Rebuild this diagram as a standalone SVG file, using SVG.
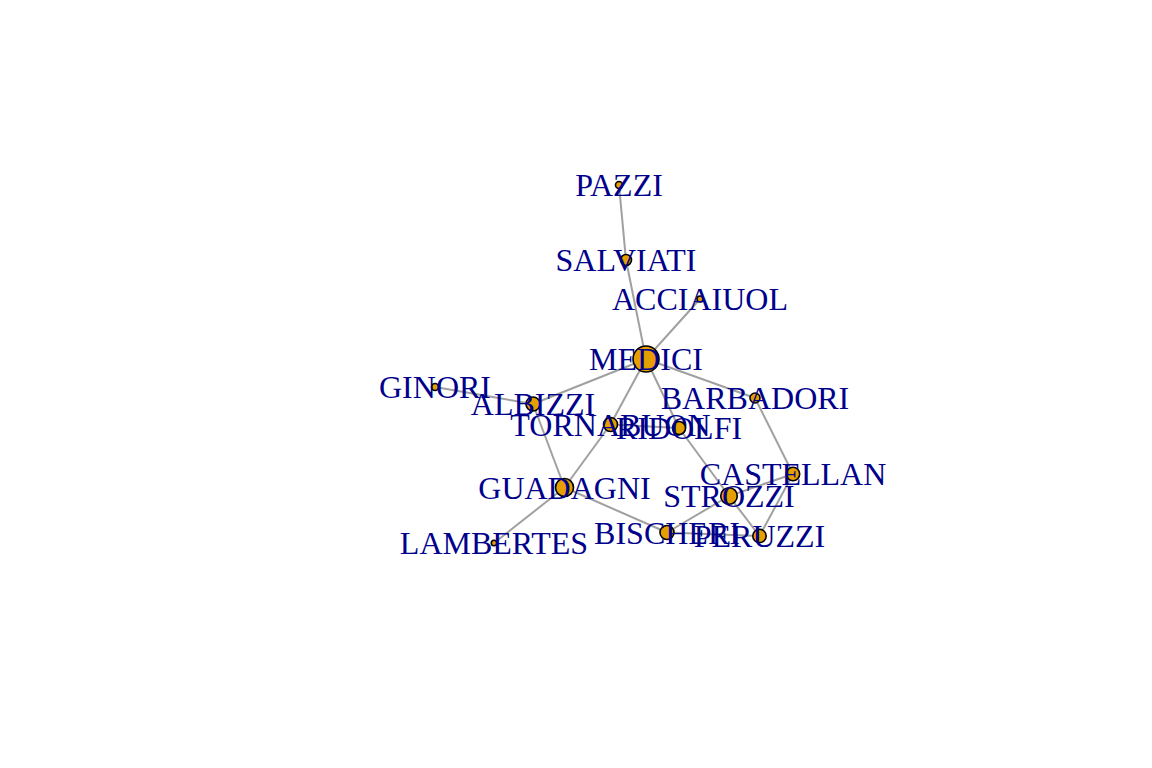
<svg xmlns="http://www.w3.org/2000/svg" width="1152" height="768" viewBox="0 0 1152 768">
<style>
.e{stroke:#a0a0a0;stroke-width:2;fill:none}
.n{fill:#E69F00;stroke:#000;stroke-width:1.6}
.l{font-family:"Liberation Serif","Times New Roman",serif;font-size:32px;fill:#00008B;text-anchor:middle}
</style>
<rect width="1152" height="768" fill="#fff"/>
<g id="edges">
<line class="e" x1="700" y1="299" x2="646" y2="359"/>
<line class="e" x1="533" y1="404" x2="435" y2="387"/>
<line class="e" x1="533" y1="404" x2="564.5" y2="487.5"/>
<line class="e" x1="533" y1="404" x2="646" y2="359"/>
<line class="e" x1="755" y1="398" x2="793" y2="474"/>
<line class="e" x1="755" y1="398" x2="646" y2="359"/>
<line class="e" x1="667" y1="532.5" x2="564.5" y2="487.5"/>
<line class="e" x1="667" y1="532.5" x2="759.5" y2="536"/>
<line class="e" x1="667" y1="532.5" x2="729" y2="496"/>
<line class="e" x1="793" y1="474" x2="759.5" y2="536"/>
<line class="e" x1="793" y1="474" x2="729" y2="496"/>
<line class="e" x1="564.5" y1="487.5" x2="494" y2="543"/>
<line class="e" x1="564.5" y1="487.5" x2="610.5" y2="424.5"/>
<line class="e" x1="646" y1="359" x2="679" y2="428"/>
<line class="e" x1="646" y1="359" x2="626" y2="260"/>
<line class="e" x1="646" y1="359" x2="610.5" y2="424.5"/>
<line class="e" x1="619" y1="185" x2="626" y2="260"/>
<line class="e" x1="759.5" y1="536" x2="729" y2="496"/>
<line class="e" x1="679" y1="428" x2="729" y2="496"/>
<line class="e" x1="679" y1="428" x2="610.5" y2="424.5"/>
</g>
<g id="node-PAZZI"><circle class="n" cx="619" cy="185" r="3.5"/><text class="l" x="619" y="196">PAZZI</text></g>
<g id="node-SALVIATI"><circle class="n" cx="626" cy="260" r="5.5"/><text class="l" x="626" y="271">SALVIATI</text></g>
<g id="node-ACCIAIUOL"><circle class="n" cx="700" cy="299" r="3"/><text class="l" x="700" y="310">ACCIAIUOL</text></g>
<g id="node-MEDICI"><circle class="n" cx="646" cy="359" r="13"/><text class="l" x="646" y="370">MEDICI</text></g>
<g id="node-GINORI"><circle class="n" cx="435" cy="387" r="3.5"/><text class="l" x="435" y="398">GINORI</text></g>
<g id="node-ALBIZZI"><circle class="n" cx="533" cy="404" r="7"/><text class="l" x="533" y="415">ALBIZZI</text></g>
<g id="node-BARBADORI"><circle class="n" cx="755" cy="398" r="5"/><text class="l" x="755" y="409">BARBADORI</text></g>
<g id="node-TORNABUON"><circle class="n" cx="610.5" cy="424.5" r="7"/><text class="l" x="610.5" y="435.5">TORNABUON</text></g>
<g id="node-RIDOLFI"><circle class="n" cx="679" cy="428" r="6.5"/><text class="l" x="679" y="439">RIDOLFI</text></g>
<g id="node-CASTELLAN"><circle class="n" cx="793" cy="474" r="6.7"/><text class="l" x="793" y="485">CASTELLAN</text></g>
<g id="node-GUADAGNI"><circle class="n" cx="564.5" cy="487.5" r="9"/><text class="l" x="564.5" y="498.5">GUADAGNI</text></g>
<g id="node-STROZZI"><circle class="n" cx="729" cy="496" r="8.3"/><text class="l" x="729" y="507">STROZZI</text></g>
<g id="node-BISCHERI"><circle class="n" cx="667" cy="532.5" r="7"/><text class="l" x="667" y="543.5">BISCHERI</text></g>
<g id="node-PERUZZI"><circle class="n" cx="759.5" cy="536" r="6.7"/><text class="l" x="759.5" y="547">PERUZZI</text></g>
<g id="node-LAMBERTES"><circle class="n" cx="494" cy="543" r="2.7"/><text class="l" x="494" y="554">LAMBERTES</text></g>
</svg>
